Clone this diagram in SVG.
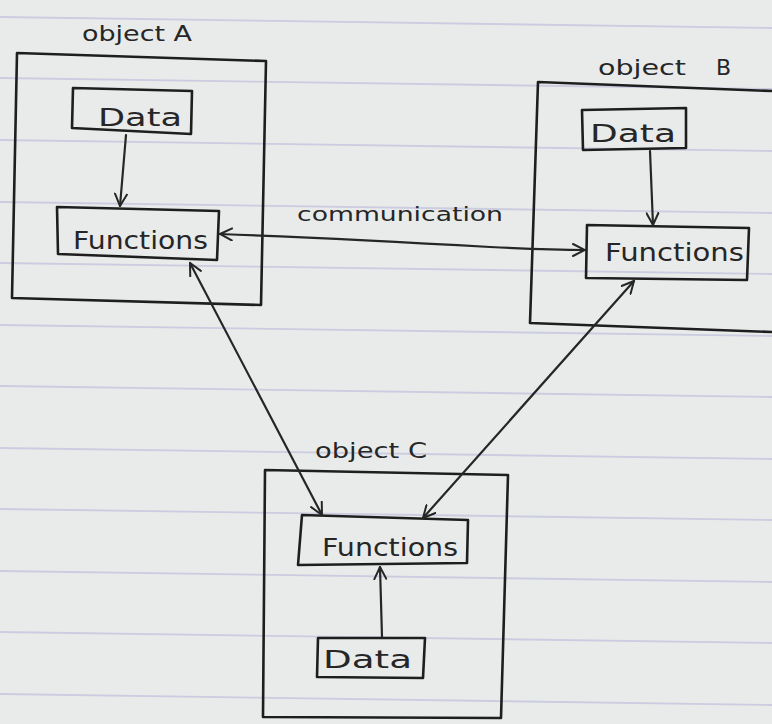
<svg xmlns="http://www.w3.org/2000/svg" width="772" height="724" viewBox="0 0 772 724">
<style>
.paper{fill:#e9ebeb}
.rule{stroke:#cbcce0;stroke-width:1.8;fill:none}
.box{fill:none;stroke:#1e1e1e;stroke-width:2.6;stroke-linejoin:round}
.edge{fill:none;stroke:#262626;stroke-width:2.2;stroke-linecap:round}
.t{font-family:"DejaVu Sans","Liberation Sans",sans-serif;fill:#262626}
.lbl{font-size:22px}
.nm{font-size:25px}
.cm{font-size:20px}
</style>
<defs>
<linearGradient id="pg" x1="0" y1="0" x2="1" y2="0">
<stop offset="0" stop-color="#e6e8e8"/>
<stop offset="1" stop-color="#eff0f0"/>
</linearGradient>
<marker id="ah" viewBox="0 0 14 14" refX="13" refY="7" markerWidth="14" markerHeight="14" markerUnits="userSpaceOnUse" orient="auto-start-reverse">
<path d="M1,1 L13,7 L1,13" fill="none" stroke="#262626" stroke-width="2" stroke-linecap="round"/>
</marker>
</defs>
<rect class="paper" width="772" height="724" fill="url(#pg)"/>
<g id="rules">
<path class="rule" d="M0,17 L772,28"/>
<path class="rule" d="M0,78 L772,89"/>
<path class="rule" d="M0,140 L772,151"/>
<path class="rule" d="M0,202 L772,213"/>
<path class="rule" d="M0,263 L772,274"/>
<path class="rule" d="M0,325 L772,336"/>
<path class="rule" d="M0,386 L772,397"/>
<path class="rule" d="M0,448 L772,459"/>
<path class="rule" d="M0,509 L772,520"/>
<path class="rule" d="M0,571 L772,582"/>
<path class="rule" d="M0,632 L772,643"/>
<path class="rule" d="M0,694 L772,705"/>
</g>
<g id="objectA">
<path class="box" d="M17,53 L266,61 L261,305 L12,298 Z"/>
<text class="t lbl" x="82" y="41" textLength="110" lengthAdjust="spacingAndGlyphs">object A</text>
</g>
<g id="dataA">
<path class="box" d="M73,88 L192,91 L191,134 L72,128 Z"/>
<text class="t nm" x="98" y="126" textLength="84" lengthAdjust="spacingAndGlyphs">Data</text>
</g>
<g id="functionsA">
<path class="box" d="M57,207 L219,211 L217,260 L58,254 Z"/>
<text class="t nm" x="73" y="249" textLength="135" lengthAdjust="spacingAndGlyphs">Functions</text>
</g>
<g id="objectB">
<path class="box" d="M772,91 L538,82 L530,323 L772,332"/>
<text class="t lbl" x="598" y="75"><tspan textLength="88" lengthAdjust="spacingAndGlyphs">object</tspan><tspan x="716">B</tspan></text>
</g>
<g id="dataB">
<path class="box" d="M582,110 L686,108 L686,148 L583,150 Z"/>
<text class="t nm" x="590" y="142" textLength="86" lengthAdjust="spacingAndGlyphs">Data</text>
</g>
<g id="functionsB">
<path class="box" d="M587,225 L749,228 L747,280 L586,278 Z"/>
<text class="t nm" x="605" y="261" textLength="139" lengthAdjust="spacingAndGlyphs">Functions</text>
</g>
<g id="objectC">
<path class="box" d="M265,470 L508,475 L501,718 L263,717 Z"/>
<text class="t lbl" x="315" y="458" textLength="112" lengthAdjust="spacingAndGlyphs">object C</text>
</g>
<g id="functionsC">
<path class="box" d="M302,515 L468,520 L467,563 L298,565 Z"/>
<text class="t nm" x="322" y="556" textLength="136" lengthAdjust="spacingAndGlyphs">Functions</text>
</g>
<g id="dataC">
<path class="box" d="M318,638 L425,638 L423,678 L317,677 Z"/>
<text class="t nm" x="323" y="668" textLength="89" lengthAdjust="spacingAndGlyphs">Data</text>
</g>
<g id="connectors">
<path class="edge" d="M126,135 L120,206" marker-end="url(#ah)"/>
<path class="edge" d="M650,151 L653,225" marker-end="url(#ah)"/>
<path class="edge" d="M382,637 L380,567" marker-end="url(#ah)"/>
<path class="edge" d="M220,234 C330,238 420,243 490,247 C530,249 560,250 585,250" marker-start="url(#ah)" marker-end="url(#ah)"/>
<path class="edge" d="M190,263 L322,515" marker-start="url(#ah)" marker-end="url(#ah)"/>
<path class="edge" d="M634,281 L423,518" marker-start="url(#ah)" marker-end="url(#ah)"/>
<text class="t cm" x="297" y="221" textLength="206" lengthAdjust="spacingAndGlyphs">communication</text>
</g>
</svg>
